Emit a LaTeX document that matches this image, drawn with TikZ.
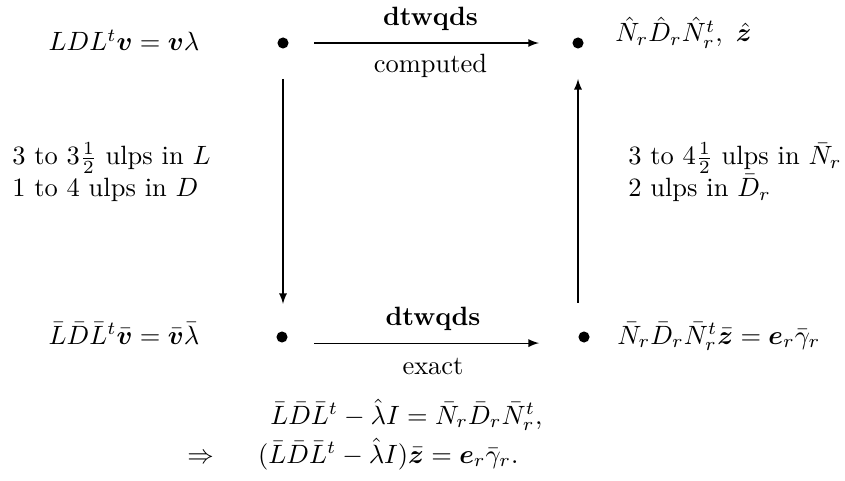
\documentclass[tikz,border=0pt]{standalone}
\usepackage{amsmath}
\usepackage{bm}
\usetikzlibrary{arrows, positioning}

\begin{document}
\begin{tikzpicture}[x=0.378pt, y=-0.378pt]
    % Define styles
    \tikzstyle{dot}=[circle, fill=black, inner sep=0pt, minimum size=4.2pt]
    \tikzstyle{arr}=[->, >=latex, thin]
    \tikzstyle{lab}=[text height=1.5ex, text depth=0.25ex]
    \useasboundingbox (0,0) rectangle (845,481);

    % Corner points
    \node[dot] at (283,43) (tl) {};
    \node[dot] at (578,43) (tr) {};
    \node[dot] at (282,337) (bl) {};
    \node[dot] at (584,337) (br) {};

    % Equations at the corners
    \node[anchor=base] at (124,51) (eqtl) {$LDL^t\bm{v}=\bm{v}\lambda$};
    \node[anchor=base west] at (606,42) (eqtr) {$\hat{N}_r\hat{D}_r\hat{N}_r^t,\ \hat{\bm{z}}$};
    \node[anchor=base] at (124,344) (eqbl) {$\bar{L}\bar{D}\bar{L}^t\bar{\bm{v}}=\bar{\bm{v}}\bar{\lambda}$};
    \node[anchor=base west] at (608,344) (eqbr) {$\bar{N}_r\bar{D}_r\bar{N}_r^t\bar{\bm{z}}=\bm{e}_r\bar{\gamma}_r$};

    % Error bounds
    \node[anchor=west, align=left] at (3,172) (errl) {3 to $3\frac{1}{2}$ ulps in $L$\\1 to 4 ulps in $D$};
    \node[anchor=west, align=left] at (619,172) (errr) {3 to $4\frac{1}{2}$ ulps in $\bar{N}_r$\\2 ulps in $\bar{D}_r$};

    % Arrows
    \draw[arr, shorten <=9.45pt, shorten >=12.5pt] (tl) -- (tr)
        node[lab, midway, above=2pt] (dtop) {\textbf{dtwqds}}
        node[lab, midway, below=1pt] (ctop) {computed};
    \draw[arr, shorten <=9.8pt, shorten >=14.7pt] ([yshift=-2.3pt]bl.east) -- ([yshift=-2.3pt]br.west)
        node[lab, midway, above=2pt] (dbot) {\textbf{dtwqds}}
        node[lab, midway, below=2pt] (cbot) {exact};
    \draw[arr, shorten <=11.3pt, shorten >=10.2pt] (tl) -- (tl |- bl.north);
    \draw[arr, shorten <=10.6pt, shorten >=11.3pt] (tr |- br.north) -- (tr);

    % Bottom relations
    \node[anchor=base west] at (261,424) (rel1) {$\bar{L}\bar{D}\bar{L}^t-\hat{\lambda}I=\bar{N}_r\bar{D}_r\bar{N}_r^t,$};
    \node[anchor=base west] at (178,463) (rel2) {$\Rightarrow\quad\hspace{4pt}(\bar{L}\bar{D}\bar{L}^t-\hat{\lambda}I)\bar{\bm{z}}=\bm{e}_r\bar{\gamma}_r.$};
\end{tikzpicture}
\end{document}
